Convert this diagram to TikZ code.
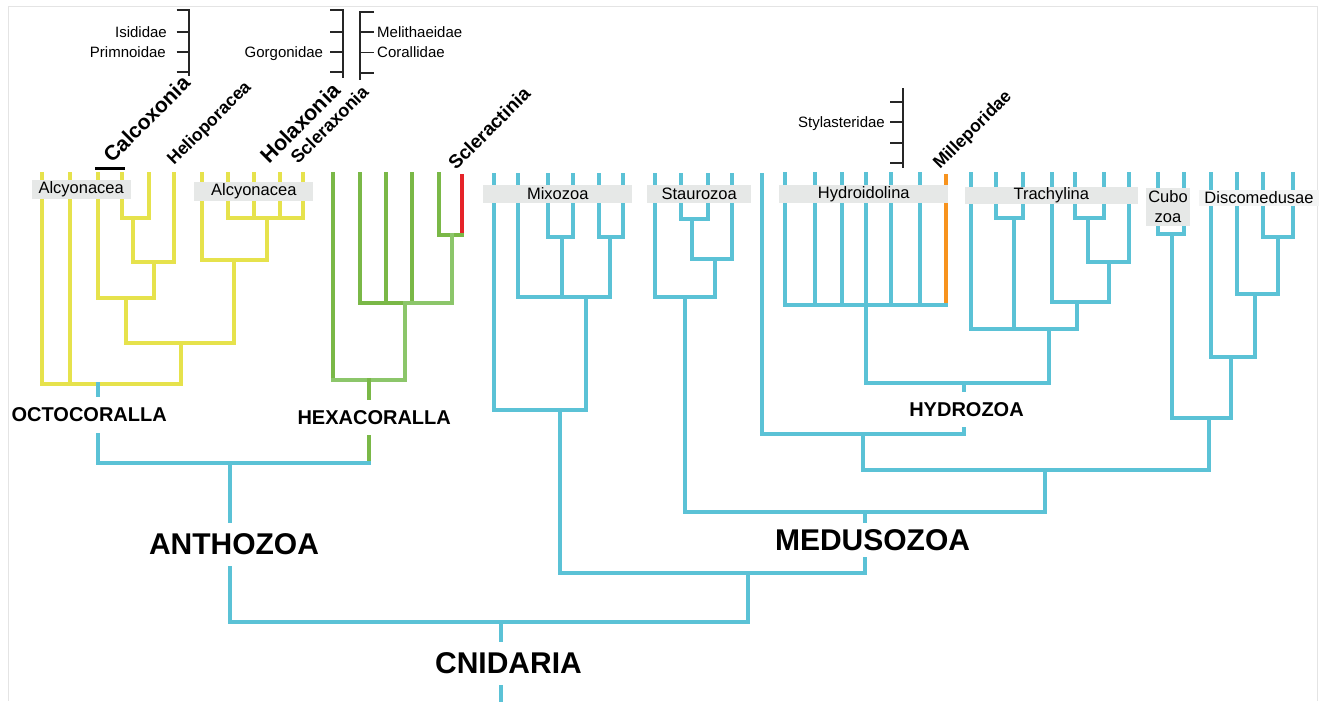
\documentclass[tikz,border=0pt]{standalone}
\usepackage{fontspec}
\setmainfont{Liberation Sans}
\usetikzlibrary{positioning}
\definecolor{octoline}{HTML}{E6E24C}
\definecolor{hexaline}{HTML}{7AB847}
\definecolor{hexalite}{HTML}{8CC66A}
\definecolor{medline}{HTML}{5BC2D6}
\definecolor{sclline}{HTML}{E52329}
\definecolor{milline}{HTML}{F7931E}
\definecolor{grpfill}{HTML}{E6E8E7}
\definecolor{grplite}{HTML}{F3F4F4}
\definecolor{framegray}{HTML}{E4E4E4}
\newcommand{\fsz}[1]{\fontsize{#1}{#1}\selectfont}
\tikzset{
  br/.style    = {line width=4pt, line cap=rect, line join=miter},
  octo/.style  = {br, draw=octoline},
  hexa/.style  = {br, draw=hexaline},
  med/.style   = {br, draw=medline},
  scl/.style   = {line width=4pt, draw=sclline},
  mil/.style   = {line width=4pt, draw=milline},
  grp/.style   = {fill=grpfill, inner sep=0pt, font=\fsz{16.5}},
  fam/.style   = {inner sep=0pt, font=\fsz{15}},
  famtick/.style = {draw=black!85, line width=1.8pt},
  taxon/.style = {rotate=45, anchor=base west, inner sep=0pt},
  clade/.style = {fill=white, inner sep=0pt, font=\bfseries\fsz{20}},
  bigclade/.style = {fill=white, inner sep=0pt, font=\bfseries\fsz{30}}
}

\begin{document}
\begin{tikzpicture}[x=1pt, y=-1pt]
  \useasboundingbox (0,0) rectangle (1329,701);
  \draw[framegray, line width=1pt] (8,701) -- (8,7) -- (1317,7) -- (1317,701);

  % tips
  \foreach \n/\x in {1/41.7, 2/70, 3/97.7, 4/121.7, 5/149, 6/174, 7/201.7,
                     8/228, 9/254, 10/280, 11/303.3}
    \coordinate (o\n) at (\x,174);
  \foreach \n/\x in {1/332.7, 2/360, 3/385.7, 4/411.7, 5/439, 6/461.7}
    \coordinate (h\n) at (\x,174);
  \foreach \n/\x in {1/494, 2/518.3, 3/547.7, 4/573.3, 5/599, 6/622.7}
    \coordinate (m\n) at (\x,175);
  \foreach \n/\x in {1/655, 2/681, 3/707.7, 4/731.7}
    \coordinate (s\n) at (\x,175);
  \coordinate (l1) at (761.7,175);
  \foreach \n/\x in {1/785, 2/815, 3/842, 4/866, 5/891, 6/920, 7/946}
    \coordinate (d\n) at (\x,174);
  \foreach \n/\x in {1/971, 2/995.7, 3/1022.7, 4/1051.7, 5/1075, 6/1104, 7/1129}
    \coordinate (t\n) at (\x,174);
  \coordinate (c1) at (1158,174);
  \coordinate (c2) at (1183.5,174);
  \foreach \n/\x in {1/1211, 2/1237.3, 3/1262.7, 4/1292.7}
    \coordinate (e\n) at (\x,174);

  % inner nodes
  \coordinate (oA) at (133.3,218.3);
  \coordinate (oB) at (154.3,261.7);
  \coordinate (oC) at (126,298.3);
  \coordinate (oD) at (266.7,218.3);
  \coordinate (oE) at (234.3,260);
  \coordinate (oF) at (181,343.3);
  \coordinate (octo) at (97.7,384.3);
  \coordinate (hA) at (451.7,235);
  \coordinate (hB) at (405,303.3);
  \coordinate (hexa) at (369,380);
  \coordinate (antho) at (230,462.7);
  \coordinate (mA) at (561.7,236.7);
  \coordinate (mB) at (610,236.7);
  \coordinate (mC) at (586,296.7);
  \coordinate (mixo) at (560,410);
  \coordinate (sA) at (691.7,219);
  \coordinate (sB) at (715,259);
  \coordinate (stau) at (685,296.7);
  \coordinate (hyd) at (865.7,305);
  \coordinate (tA) at (1014.3,218.3);
  \coordinate (tB) at (1088.3,218.3);
  \coordinate (tC) at (1109.3,261.7);
  \coordinate (tD) at (1076.7,301.7);
  \coordinate (trach) at (1049,329.3);
  \coordinate (hh) at (964,383.3);
  \coordinate (hydro) at (862.7,434);
  \coordinate (cubo) at (1171.7,234);
  \coordinate (eA) at (1278.3,236.7);
  \coordinate (eB) at (1255,294.3);
  \coordinate (disco) at (1231,356.7);
  \coordinate (scy) at (1209,418);
  \coordinate (acr) at (1045,470);
  \coordinate (med) at (865,511.7);
  \coordinate (myx) at (748,573.3);
  \coordinate (cnid) at (501,621.7);
  \coordinate (root) at (501,701);

  % octocorallia
  \foreach \c/\p in {o4/oA, o5/oA, oA/oB, o6/oB, o3/oC, oB/oC, o8/oD, o9/oD,
                     o10/oD, o11/oD, o7/oE, oD/oE, oC/oF, oE/oF, o1/octo,
                     o2/octo, oF/octo}
    \draw[octo] (\c) |- (\p);
  % hexacorallia
  \draw[scl] (h6) -- (h6 |- hA);
  \draw[hexa] (h5) |- (hA) -- (h6 |- hA);
  \foreach \c/\p in {h2/hB, h3/hB, h4/hB, h1/hexa}
    \draw[hexa] (\c) |- (\p);
  \draw[hexa, draw=hexalite] (hA) |- (hB) (hB) |- (hexa) (hexa) -- (hexa -| h1);
  \draw[hexa] (hexa) -- (hexa |- antho);
  \draw[med] (octo) |- (antho) -- (antho -| hexa);

  % medusozoa and mixozoa
  \draw[mil] (d7) -- (d7 |- hyd);
  \draw[med] (d7 |- hyd) -- (hyd);
  \foreach \c/\p in {m3/mA, m4/mA, m5/mB, m6/mB, m2/mC, mA/mC, mB/mC,
                     m1/mixo, mC/mixo, s2/sA, s3/sA, sA/sB, s4/sB, s1/stau,
                     sB/stau, d1/hyd, d2/hyd, d3/hyd, d4/hyd, d5/hyd, d6/hyd,
                     t2/tA, t3/tA, t5/tB, t6/tB, tB/tC, t7/tC, t4/tD, tC/tD,
                     t1/trach, tA/trach, tD/trach, hyd/hh, trach/hh,
                     l1/hydro, hh/hydro, c1/cubo, c2/cubo, e3/eA, e4/eA,
                     e2/eB, eA/eB, e1/disco, eB/disco, cubo/scy, disco/scy,
                     hydro/acr, scy/acr, stau/med, acr/med, mixo/myx,
                     med/myx, antho/cnid, myx/cnid}
    \draw[med] (\c) |- (\p);
  \draw[med] (cnid) -- (root);

  % group boxes over the tips
  \node[grp, minimum width=99pt, minimum height=19pt] (alc1) at (81.2,189.5) {Alcyonacea};
  \node[grp, minimum width=119pt, minimum height=19pt] (alc2) at (253.8,191.3) {Alcyonacea};
  \node[grp, minimum width=149pt, minimum height=18pt] (mixbox) at (557.8,193.8) {Mixozoa};
  \node[grp, minimum width=104pt, minimum height=18pt] (staubox) at (699.2,193.8) {Staurozoa};
  \node[grp, minimum width=169pt, minimum height=18pt] (hydbox) at (863.8,194.2) {Hydroidolina};
  \node[grp, minimum width=173pt, minimum height=17pt] (trabox) at (1051.3,195.7) {Trachylina};
  \node[grp, minimum width=44pt, minimum height=38pt, align=center,
        font=\fontsize{16.5}{20}\selectfont] (cubbox) at (1168,207) {Cubo\\zoa};
  \node[grp, fill=grplite, minimum width=120pt, minimum height=16pt] (disbox) at (1259,197.5) {Discomedusae};

  % rotated taxa
  \draw[black, line width=3pt] (95,168) -- (125,168);
  \node[taxon, font=\bfseries\fsz{21}] (calco) at (112,164) {Calcoxonia};
  \node[taxon, font=\bfseries\fsz{17.5}] (helio) at (174,166) {Helioporacea};
  \node[taxon, font=\bfseries\fsz{21.5}] (holax) at (269,165) {Holaxonia};
  \node[taxon, font=\bfseries\fsz{18}] (sclerax) at (298,165) {Scleraxonia};
  \node[taxon, font=\bfseries\fsz{19}] (sclerac) at (456,171) {Scleractinia};
  \node[taxon, font=\bfseries\fsz{17.5}] (millep) at (940,170) {Milleporidae};

  % family brackets
  \draw[famtick] (176.7,10) -| (189.3,76);
  \foreach \y in {31.7,51.7,72} \draw[famtick] (176.7,\y) -- (189.3,\y);
  \node[fam, anchor=base east] (isid) at (167,37.3) {Isididae};
  \node[fam, anchor=base east] (prim) at (166,57.5) {Primnoidae};
  \draw[famtick] (330,10) -| (343.3,78);
  \foreach \y in {31.7,51.7,72} \draw[famtick] (330,\y) -- (343.3,\y);
  \node[fam, anchor=base east] (gorg) at (323.3,57.5) {Gorgonidae};
  \draw[famtick] (374,12) -| (360,80);
  \foreach \y in {32,52.5,73} \draw[famtick] (360,\y) -- (374,\y);
  \node[fam, anchor=base west] (meli) at (377,37.5) {Melithaeidae};
  \node[fam, anchor=base west] (cora) at (377,58) {Corallidae};
  \draw[famtick] (903.3,88.3) -- (903.3,168.3);
  \foreach \y in {101.7,122.3,142.7,163.3} \draw[famtick] (890,\y) -- (903.3,\y);
  \node[fam, anchor=base east] (styl) at (885,127.7) {Stylasteridae};

  % clade names on the branches
  \node[clade, minimum height=36pt] (octolbl) at (89.2,415) {OCTOCORALLA};
  \node[clade, minimum height=35pt] (hexalbl) at (374.2,417.5) {HEXACORALLA};
  \node[clade, minimum height=35pt] (hydrolbl) at (966.5,409.5) {HYDROZOA};
  \node[bigclade, minimum height=43pt] (antholbl) at (234,544.5) {ANTHOZOA};
  \node[bigclade, minimum height=34pt] (medlbl) at (872.5,540) {MEDUSOZOA};
  \node[bigclade, minimum height=43pt] (cnidlbl) at (508.5,663.5) {CNIDARIA};
\end{tikzpicture}
\end{document}
